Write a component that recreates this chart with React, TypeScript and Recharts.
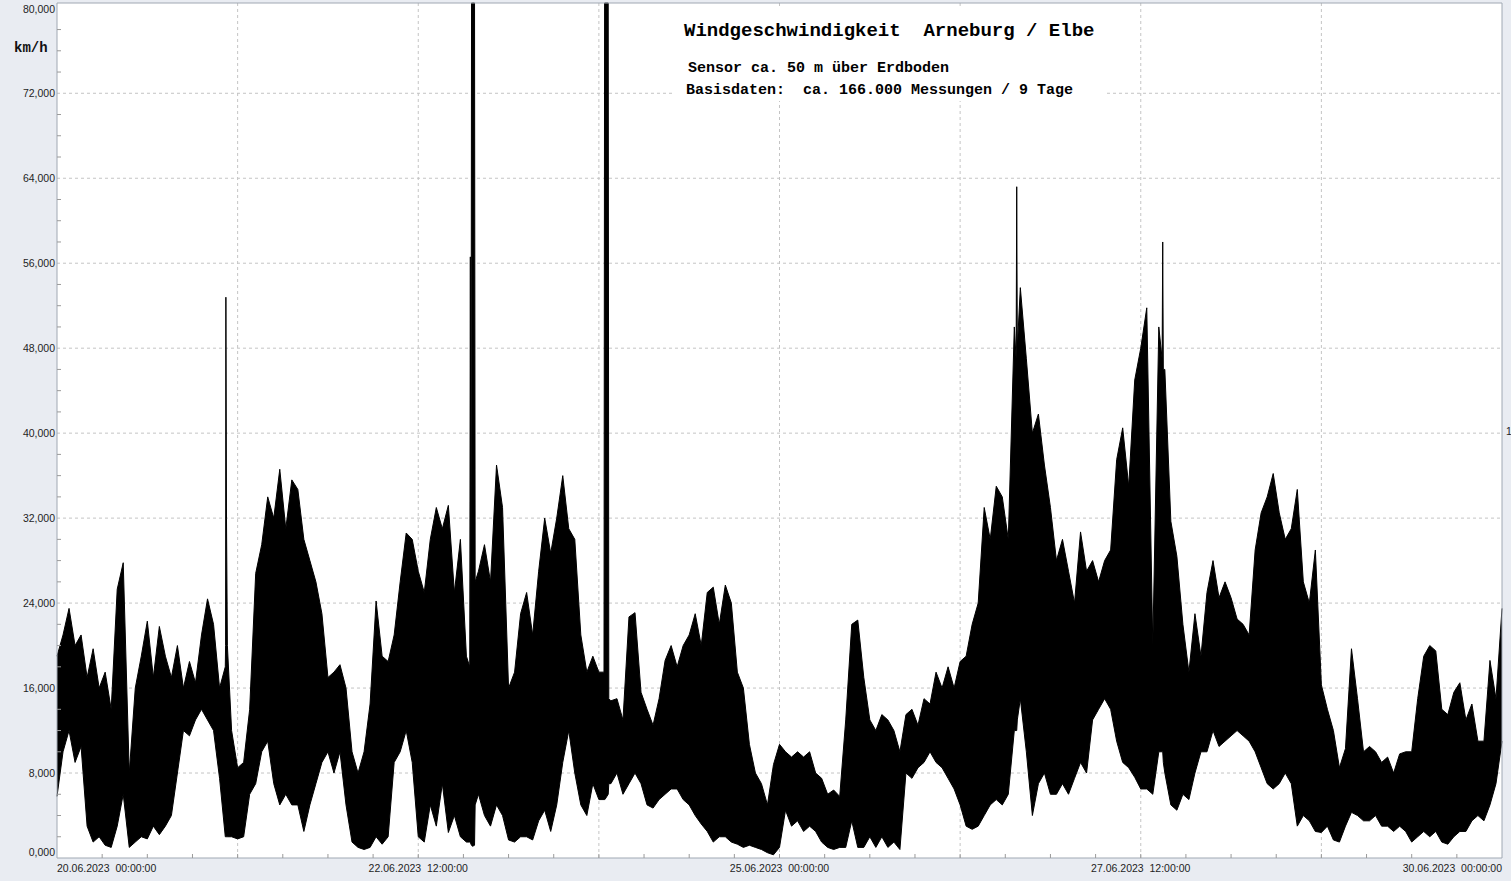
import { AreaChart, Area, XAxis, YAxis, CartesianGrid, ReferenceLine } from 'recharts'

// Stundenwerte ab 20.06.2023 00:00 (Index = Stunde), Min / Max km/h je Stunde
const windMax = [
  19, 21, 23.5, 20, 21, 17, 19.7, 16, 17.5, 14,
  25.3, 27.8, 8, 16, 19, 22.3, 17, 21.8, 19, 17,
  20, 16, 18.5, 16.5, 21, 24.4, 22, 16, 20, 12,
  8.5, 9, 14, 26.8, 29.5, 34, 32, 36.6, 31, 35.6,
  34.7, 30, 28, 26, 23, 17, 17.5, 18.2, 16, 10,
  8, 10, 14.5, 24.2, 19, 18.5, 21, 26, 30.6, 30,
  27, 25, 30, 33, 31, 33.2, 25, 30, 19, 80.5,
  27, 29.5, 26, 37, 33, 16, 17.5, 23, 25, 21,
  27, 32, 28.7, 32, 36, 31, 30, 21, 17.5, 19,
  17.5, 80.5, 14.8, 15, 13, 22.7, 23.1, 15.6, 14, 12.5,
  15, 18.6, 20, 18, 20, 21, 23, 20, 25, 25.5,
  22, 25.7, 24, 17.5, 16, 10.7, 8, 7, 5, 8.8,
  10.7, 10, 9.5, 10, 9.5, 10, 8, 7.5, 6, 6.4,
  5.8, 13, 22, 22.4, 17, 13, 12, 13.5, 13, 12,
  10, 13.5, 14, 12.5, 15, 14.5, 17.5, 16, 18, 16,
  18.5, 19, 22, 24, 33, 30, 35, 34, 30, 50,
  53.7, 47, 40, 41.8, 37, 33, 28, 30, 27, 24,
  30.7, 27, 28, 26, 28, 29, 37.5, 40.5, 35, 45,
  48, 51.8, 20, 50, 46, 31.7, 28.4, 22, 17.5, 23,
  19, 25, 28, 24.5, 26, 24.5, 22.5, 22, 21, 29,
  32.5, 34, 36.2, 32.5, 30, 31, 34.7, 26, 24, 29,
  16.3, 14, 12, 8.5, 10.3, 19.7, 15, 10, 10.5, 10,
  9, 9.5, 8, 9.8, 10, 10, 15, 19, 20, 19.5,
  14, 13.5, 15.6, 16.5, 13, 14.5, 11, 11, 18.6, 15,
  23.5,
]

const windMin = [
  5.8, 10, 12, 9, 10.5, 3, 1.5, 2, 1.2, 1,
  3, 6, 1, 1.5, 2, 1.8, 3, 2.2, 3, 4,
  8, 12, 11.5, 13, 14, 13, 12, 7.5, 2, 2,
  1.8, 2, 6, 7, 10, 11, 7, 5, 6, 5,
  5, 2.5, 5, 7, 9, 10, 8, 10, 5, 1.5,
  1, 0.8, 1, 2, 1.3, 2, 9, 10, 12, 9,
  2, 1.5, 5, 3, 7, 2.4, 4, 2, 1.5, 1.1,
  6, 4, 3, 5, 4, 1.7, 1.5, 2, 2, 1.7,
  3.5, 4.5, 2.5, 5, 9, 12, 8, 5, 4, 7,
  5.5, 5.5, 7, 8, 6, 7, 8, 7, 5, 4.7,
  5.5, 6, 6.5, 6.5, 5.5, 5, 4, 3.2, 2.5, 1.5,
  2, 2, 1.5, 1.3, 1, 1.2, 1, 0.8, 0.5, 0.3,
  1, 4.5, 3, 3.5, 2.5, 3, 2.5, 1.5, 1, 0.8,
  1, 1, 3.5, 1, 1, 2, 1, 2, 1, 1.5,
  0.8, 8, 7.5, 8.5, 9, 10, 9, 8.5, 7.5, 6.5,
  5, 3, 2.7, 3, 4, 5, 5.5, 5, 6, 12,
  15, 10, 4, 7, 8, 6, 6, 7, 6, 7.5,
  9, 8, 13, 14, 15, 14, 11, 9, 8.5, 7.6,
  6.5, 6.5, 6, 10, 8, 5, 4.5, 6, 5.5, 8,
  10, 10, 12, 10.5, 11, 11.5, 12, 11.5, 11, 10,
  8.5, 7, 6.5, 7, 8, 7, 3, 4, 3.5, 2.5,
  2.4, 3, 1.7, 1.5, 3, 4.3, 4, 3.5, 3.5, 4,
  3, 3, 2.5, 3, 2.5, 1.5, 2, 2.5, 2, 2.5,
  1.5, 1.3, 2, 2.5, 2.5, 3.5, 4, 3.5, 5, 7,
  11,
]

// einzelne Spitzen und Ausreißer zwischen den Stundenwerten (Zeit in Stunden)
const peakTime = [27.95, 28.05, 28.15, 28.3, 68.55, 68.65, 68.75, 68.85, 69.35, 69.45, 90.85, 90.95, 91.55, 91.65, 159.3, 159.4, 159.5, 183.55, 183.65, 183.75]
const peakMin = [2, 2, 2, 2, 1.5, 1.5, 1.3, 1.2, 1.2, 5, 5.5, 5.5, 6, 7, 12, 12, 13, 10, 10, 9]
const peakMax = [18, 52.8, 32, 20, 18, 56.6, 20, 80.5, 80.5, 26, 17.5, 80.5, 80.5, 15, 47, 63.2, 48, 47, 58, 46]

const yMajor = [0, 8, 16, 24, 32, 40, 48, 56, 64, 72, 80]
const yGrid = [8, 16, 24, 32, 40, 48, 56, 64, 72]
const xGrid = [30, 60, 90, 120, 150, 180, 210]
const xLabelHours = [0, 60, 120, 180, 240]
const xLabels = ['20.06.2023  00:00:00', '22.06.2023  12:00:00', '25.06.2023  00:00:00', '27.06.2023  12:00:00', '30.06.2023  00:00:00']

const yMinor = Array.from({ length: 41 }, (_, i) => i * 2)
const xMinor = Array.from({ length: 33 }, (_, i) => i * 7.5)

const data = [
  ...windMax.map((hi, i) => ({ t: i, v: [windMin[i], hi] })),
  ...peakTime.map((t, i) => ({ t, v: [peakMin[i], peakMax[i]] })),
].sort((a, b) => a.t - b.t)

const X_MAX = 240
const Y_MAX = 80.5
const PLOT_LEFT = 57
const PLOT_BOTTOM = 858
const axisFont = '"Liberation Sans", Arial, sans-serif'
const monoFont = '"Liberation Mono", "Courier New", monospace'

// Gitterlinien über die Achsenskala, sonst aus dem Plotbereich
const vGrid = ({ xAxis, offset }: any) =>
  xGrid.map((v) => (xAxis && typeof xAxis.scale === 'function' ? xAxis.scale(v) : offset.left + (v / X_MAX) * offset.width))
const hGrid = ({ yAxis, offset }: any) =>
  yGrid.map((v) => (yAxis && typeof yAxis.scale === 'function' ? yAxis.scale(v) : offset.top + (1 - v / Y_MAX) * offset.height))

function YTick({ y, payload }: any) {
  const v = payload.value
  if (yMajor.includes(v)) {
    let dy = 3.5
    if (v === 0) dy = -2.5
    if (v === 80) dy = 4.5
    return (
      <text x={PLOT_LEFT - 2} y={y + dy} textAnchor="end" fontSize={10.5} fontFamily={axisFont} fill="#1e1e1e">
        {v},000
      </text>
    )
  }
  return <line x1={PLOT_LEFT} x2={PLOT_LEFT + 4} y1={y} y2={y} stroke="#9a9a9a" />
}

function XTick({ x, payload }: any) {
  const v = payload.value
  const idx = xLabelHours.indexOf(v)
  let anchor = 'middle'
  if (v === 0) anchor = 'start'
  if (v === X_MAX) anchor = 'end'
  return (
    <g>
      {v > 0 && v < X_MAX && <line x1={x} x2={x} y1={PLOT_BOTTOM} y2={PLOT_BOTTOM - 4} stroke="#9a9a9a" />}
      {idx >= 0 && (
        <text x={x} y={PLOT_BOTTOM + 13.5} textAnchor={anchor} fontSize={10.5} fontFamily={axisFont} fill="#1e1e1e" style={{ whiteSpace: 'pre' }}>
          {xLabels[idx]}
        </text>
      )}
    </g>
  )
}

export default function App() {
  return (
    <div style={{ position: 'absolute', left: 0, top: 0, width: 1511, height: 881, background: '#e9ecf2', overflow: 'hidden' }}>
      <AreaChart width={1511} height={881} data={data} margin={{ top: 3, right: 9, bottom: 0, left: 0 }}>
        <CartesianGrid
          fill="#ffffff"
          stroke="#c4c4c4"
          strokeDasharray="3 3"
          verticalCoordinatesGenerator={vGrid}
          horizontalCoordinatesGenerator={hGrid}
        />
        <XAxis dataKey="t" type="number" domain={[0, X_MAX]} ticks={xMinor} tick={<XTick />} tickLine={false} axisLine={{ stroke: '#a0a8b3' }} height={23} interval={0} />
        <YAxis type="number" domain={[0, Y_MAX]} ticks={yMinor} tick={<YTick />} tickLine={false} axisLine={{ stroke: '#a0a8b3' }} width={57} interval={0} />
        <Area type="linear" dataKey="v" stroke="#000" strokeWidth={1} fill="#000" fillOpacity={1} dot={false} activeDot={false} isAnimationActive={false} />
        <ReferenceLine y={Y_MAX} stroke="#a0a8b3" />
        <ReferenceLine x={X_MAX} stroke="#a0a8b3" />
      </AreaChart>

      <div style={{ position: 'absolute', left: 14, top: 41, fontFamily: monoFont, fontWeight: 'bold', fontSize: 14, lineHeight: '14px', color: '#111' }}>
        km/h
      </div>
      <div style={{ position: 'absolute', left: 1506, top: 425, fontFamily: axisFont, fontSize: 10.5, lineHeight: '12px', color: '#1e1e1e' }}>
        1
      </div>

      <div style={{ position: 'absolute', left: 674, top: 8, width: 432, height: 93, background: '#ffffff' }} />
      <div style={{ position: 'absolute', left: 684, top: 21.5, fontFamily: monoFont, fontWeight: 'bold', fontSize: 19, lineHeight: '19px', color: '#000', whiteSpace: 'pre' }}>
        Windgeschwindigkeit  Arneburg / Elbe
      </div>
      <div style={{ position: 'absolute', left: 688, top: 60.5, fontFamily: monoFont, fontWeight: 'bold', fontSize: 15, lineHeight: '15px', color: '#000', whiteSpace: 'pre' }}>
        Sensor ca. 50 m über Erdboden
      </div>
      <div style={{ position: 'absolute', left: 686, top: 82.5, fontFamily: monoFont, fontWeight: 'bold', fontSize: 15, lineHeight: '15px', color: '#000', whiteSpace: 'pre' }}>
        Basisdaten:  ca. 166.000 Messungen / 9 Tage
      </div>
    </div>
  )
}
